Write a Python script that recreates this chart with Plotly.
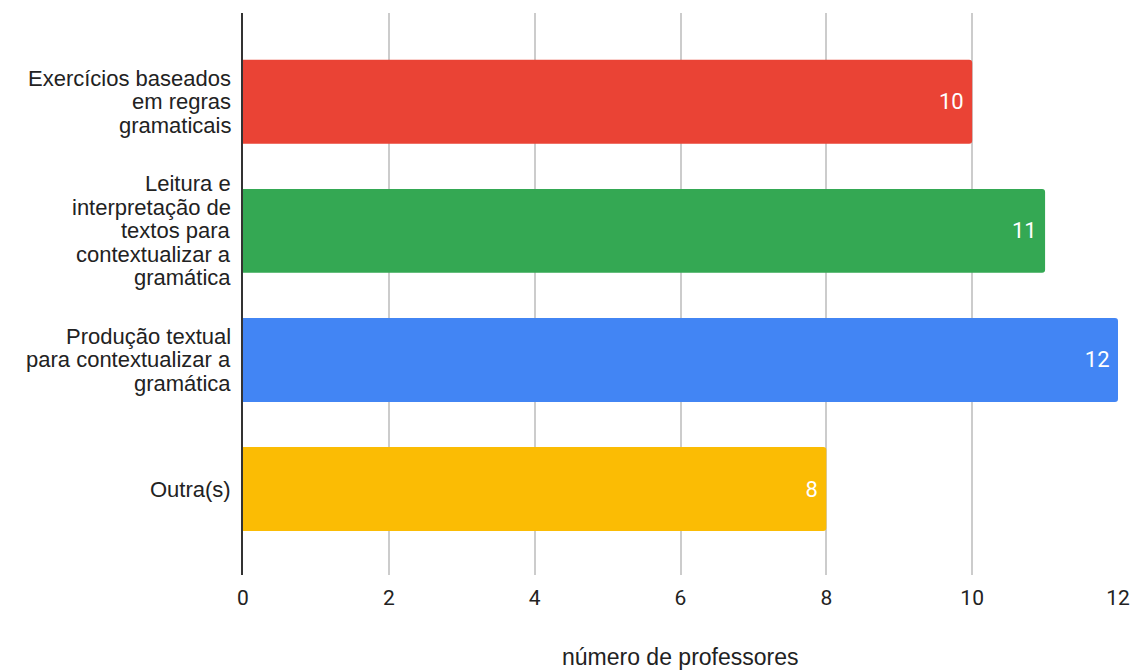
import plotly.graph_objects as go

# Respostas: estratégias usadas para ensinar gramática
categorias = [
    "Exercícios baseados<br>em regras<br>gramaticais",
    "Leitura e<br>interpretação de<br>textos para<br>contextualizar a<br>gramática",
    "Produção textual<br>para contextualizar a<br>gramática",
    "Outra(s)",
]
professores = [10, 11, 12, 8]
cores = ["#EA4335", "#34A853", "#4285F4", "#FBBC04"]
ticks_x = [0, 2, 4, 6, 8, 10, 12]

LABEL_FONT = dict(family="Liberation Sans, Arial", size=22, color="#222222")
LINE_STEP = 23.5  # vertical distance between lines of a category label

fig = go.Figure(
    go.Bar(
        x=professores,
        y=categorias,
        orientation="h",
        width=0.65,
        marker=dict(color=cores, line=dict(width=0), cornerradius=3),
        text=[f"{v}\u00a0" for v in professores],
        textposition="inside",
        insidetextanchor="end",
        textfont=dict(family="Roboto", size=22, color="white"),
        hoverinfo="skip",
    )
)

# Category labels, one annotation per line for tighter line spacing
for cat in categorias:
    linhas = cat.split("<br>")
    n = len(linhas)
    for j, linha in enumerate(linhas):
        fig.add_annotation(
            x=0, xref="paper", xanchor="right", xshift=-10,
            y=cat, yref="y", yanchor="middle",
            yshift=((n - 1) / 2 - j) * LINE_STEP,
            text=linha, showarrow=False, align="right",
            font=LABEL_FONT,
        )

# Axis title below the tick labels
fig.add_annotation(
    x=0.5, xref="paper", xanchor="center",
    y=-0.146, yref="paper", yanchor="middle",
    text="número de professores", showarrow=False,
    font=dict(family="Liberation Sans, Arial", size=23, color="#222222"),
)

fig.update_layout(
    width=1138,
    height=671,
    margin=dict(l=243, r=20, t=13, b=96),
    paper_bgcolor="white",
    plot_bgcolor="white",
    showlegend=False,
    font=dict(family="Liberation Sans, Arial", color="#222222"),
)

fig.update_xaxes(
    range=[0, 12],
    tickvals=ticks_x,
    ticktext=[str(t) for t in ticks_x],
    showgrid=True,
    gridcolor="#CCCCCC",
    gridwidth=1.5,
    zeroline=False,
    ticks="outside",
    ticklen=4,
    tickcolor="rgba(0,0,0,0)",
    tickfont=dict(family="Roboto", size=21, color="#222222"),
    automargin=False,
)

fig.update_yaxes(
    type="category",
    range=[3.666, -0.688],
    showgrid=False,
    showline=True,
    linecolor="#333333",
    linewidth=2,
    showticklabels=False,
    ticks="",
    automargin=False,
)

fig.write_html("out.html")
